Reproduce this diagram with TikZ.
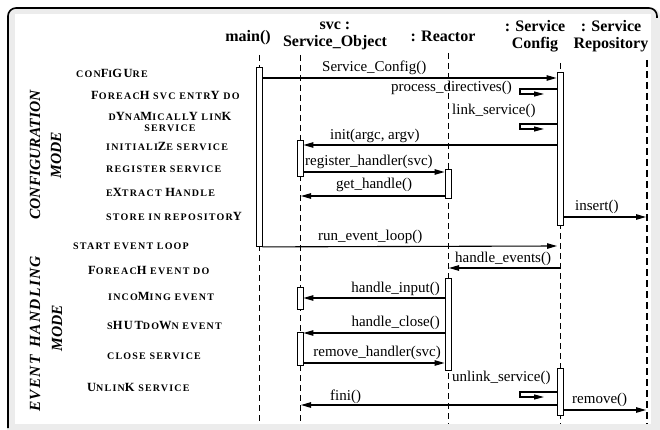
\documentclass[tikz,border=0pt]{standalone}
\usepackage{fontspec}
\setmainfont{Liberation Serif}
\newfontfamily\lblf[LetterSpace=12]{Liberation Serif}
\newfontfamily\modef[LetterSpace=8]{Liberation Serif}
\usetikzlibrary{arrows.meta}
\newcommand\lb[1]{{\fontsize{12.5}{13}\selectfont #1}}
\begin{document}
\begin{tikzpicture}[x=1pt,y=-1pt,
  hdr/.style={font=\bfseries\fontsize{16}{17}\selectfont, align=center, inner sep=0pt},
  lbl/.style={font=\fontsize{15}{16}\selectfont, inner sep=0pt},
  act/.style={font=\lblf\bfseries\fontsize{10}{11}\selectfont, inner sep=0pt, anchor=west, align=center},
  modelbl/.style={font=\bfseries\itshape\fontsize{15.5}{16}\selectfont, inner sep=0pt, rotate=90},
  life/.style={line width=0.8pt, dash pattern=on 6pt off 4pt},
  bar/.style={draw, fill=white, line width=0.9pt, minimum width=6pt, inner sep=0pt, anchor=north},
  msg/.style={line width=1.1pt, -{Triangle[length=10pt,width=5.5pt]}},
  selfmsg/.style={line width=1.1pt, -{Triangle[length=10pt,width=5pt]}}
]
\useasboundingbox (0,0) rectangle (660,430);
% frame
\fill[gray!15, rounded corners=8pt] (7,8) rectangle (660,440);
\draw[line width=1.6pt, rounded corners=8pt] (8,428) -- (8,8) -- (657,8) -- (657,18);
\fill[white] (15,14) rectangle (651,424);

% headers
\node[hdr] (hmain) at (248,38) {main()};
\node[hdr] (hsvc) at (335,36) {svc :\\Service\_Object};
\node[hdr] (hreac) at (443,36) {: Reactor};
\node[hdr] (hconf) at (535,36) {: Service\\Config};
\node[hdr] (hrepo) at (611,36) {: Service\\Repository};

% lifeline coordinates
\coordinate (mtop) at (259,55);  \coordinate (mbot) at (259,424);
\coordinate (stop) at (300,55);  \coordinate (sbot) at (300,424);
\coordinate (rtop) at (448,53);  \coordinate (rbot) at (448,424);
\coordinate (ctop) at (560,63);  \coordinate (cbot) at (560,424);
\coordinate (ptop) at (647,60);  \coordinate (pbot) at (647,424);
\draw[life] (mtop) -- (mbot);
\draw[life] (stop) -- (sbot);
\draw[life] (rtop) -- (rbot);
\draw[life] (ctop) -- (cbot);
\draw[line width=1.6pt, dash pattern=on 7pt off 4pt] (ptop) -- (pbot);

% activation bars
\node[bar, minimum height=179pt] (mbar) at (259,67) {};
\node[bar, minimum height=153pt] (cbar1) at (560,72) {};
\node[bar, minimum height=47pt] (cbar2) at (560,368) {};
\node[bar, minimum height=36pt] (sbar1) at (300,140) {};
\node[bar, minimum height=22pt] (sbar2) at (300,287) {};
\node[bar, minimum height=33pt] (sbar3) at (300,332) {};
\node[bar, minimum height=29pt] (rbar1) at (448,169) {};
\node[bar, minimum height=92pt] (rbar2) at (448,278) {};

% messages
\draw[msg] (mbar.east|-0,78) -- (cbar1.west|-0,78);
\node[lbl, anchor=base west] (l1) at (322,72) {Service\_Config()};

\draw[selfmsg] (cbar1.west|-0,89) -- (520,89) -- (520,94) -- (544,94);
\node[lbl, anchor=base east] (l2) at (512,92) {process\_directives()};

\draw[selfmsg] (cbar1.west|-0,124) -- (520,124) -- (520,129) -- (544,129);
\node[lbl, anchor=base west] (l3) at (452,115) {link\_service()};

\draw[msg] (cbar1.west|-0,145) -- (sbar1.east|-0,145);
\node[lbl, anchor=base west] (l4) at (330,140) {init(argc, argv)};

\draw[msg] (sbar1.east|-0,172) -- (rbar1.west|-0,172);
\node[lbl, anchor=base west] (l5) at (305,166) {register\_handler(svc)};

\draw[msg] (rbar1.west|-0,196) -- ([xshift=1pt]stop|-0,196);
\node[lbl, anchor=base west] (l6) at (336,189) {get\_handle()};

\draw[msg] (cbar1.east|-0,217) -- ([xshift=-1pt]ptop|-0,217);
\node[lbl, anchor=base west] (l7) at (575,211) {insert()};

\draw[msg] (mbar.south east) -- ([xshift=-3pt]ctop|-0,246);
\node[lbl, anchor=base west] (l8) at (318,240) {run\_event\_loop()};

\draw[msg] (ctop|-0,268) -- ([xshift=1pt]rtop|-0,268);
\node[lbl, anchor=base west] (l9) at (455,262) {handle\_events()};

\draw[msg] (rbar2.west|-0,298) -- (sbar2.east|-0,298);
\node[lbl, anchor=base east] (l10) at (440,292) {handle\_input()};

\draw[msg] (rbar2.west|-0,333) -- (sbar3.east|-0,333);
\node[lbl, anchor=base east] (l11) at (440,326) {handle\_close()};

\draw[msg] (sbar3.east|-0,363) -- (rbar2.west|-0,363);
\node[lbl, anchor=base east] (l12) at (441,356) {remove\_handler(svc)};

\draw[selfmsg] (cbar2.west|-0,392) -- (520,392) -- (520,397) -- (544,397);
\node[lbl, anchor=base west] (l13) at (452,381) {unlink\_service()};

\draw[msg] (cbar2.west|-0,405) -- ([xshift=1pt]stop|-0,405);
\node[lbl, anchor=base west] (l14) at (330,400) {fini()};

\draw[msg] (cbar2.east|-0,410) -- ([xshift=-1pt]ptop|-0,410);
\node[lbl, anchor=base west] (l15) at (572,403) {remove()};

% activity labels
\node[act] (a1) at (76,73) {CON\lb{F}I\lb{GU}RE};
\node[act] (a2) at (91,95) {\lb{F}OREAC\lb{H} SVC ENTR\lb{Y} DO};
\node[act, anchor=center] (a3) at (170,122) {D\lb{Y}NA\lb{M}ICALL\lb{Y} LIN\lb{K}\\SERVICE};
\node[act] (a4) at (106,146) {INITIALI\lb{Z}E SERVICE};
\node[act] (a5) at (106,169) {REGISTER SERVICE};
\node[act] (a6) at (106,192) {E\lb{X}TRACT \lb{H}ANDLE};
\node[act] (a7) at (106,216) {STORE IN REPOSITOR\lb{Y}};
\node[act] (a8) at (73,246) {START EVENT LOOP};
\node[act] (a9) at (88,270) {\lb{F}OREAC\lb{H} EVENT DO};
\node[act] (a10) at (108,296) {INCO\lb{M}ING EVENT};
\node[act] (a11) at (107,325) {S\lb{HUT}DO\lb{W}N EVENT};
\node[act] (a12) at (107,356) {CLOSE SERVICE};
\node[act] (a13) at (87,387) {\lb{U}NLIN\lb{K} SERVICE};

% mode labels
\node[modelbl] (m1) at (35,155) {CONFIGURATION};
\node[modelbl] (m2) at (56,155) {MODE};
\node[modelbl, font=\modef\bfseries\itshape\fontsize{15.5}{16}\selectfont] (m3) at (35,334) {EVENT\hskip 8pt HANDLING};
\node[modelbl] (m4) at (57,328) {MODE};
\end{tikzpicture}
\end{document}
